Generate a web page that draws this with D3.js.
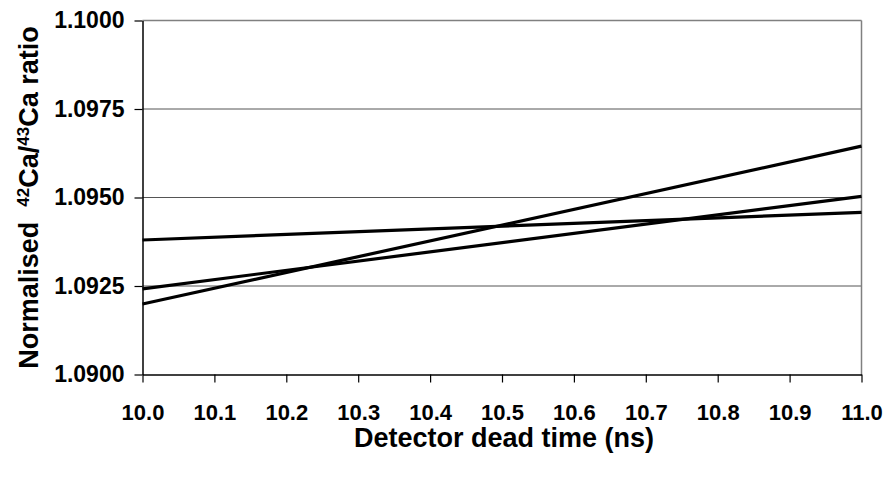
<!DOCTYPE html>
<html>
<head>
<meta charset="utf-8">
<script src="https://cdn.jsdelivr.net/npm/d3@7"></script>
<style>
  html, body { margin: 0; padding: 0; background: #fff; }
  svg { display: block; font-family: "Liberation Sans", Arial, sans-serif; font-weight: bold; }
</style>
</head>
<body>
<svg id="chart" width="891" height="477"></svg>
<script>
// Data
const xDomain = [10.0, 11.0];
const yDomain = [1.0900, 1.1000];
const xTicks = [10.0, 10.1, 10.2, 10.3, 10.4, 10.5, 10.6, 10.7, 10.8, 10.9, 11.0];
const yTicks = [1.0900, 1.0925, 1.0950, 1.0975, 1.1000];
const seriesFlat = [[10.0, 1.09380], [11.0, 1.09458]];
const seriesMid = [[10.0, 1.09242], [11.0, 1.09503]];
const seriesSteep = [[10.0, 1.09199], [11.0, 1.09645]];
const allSeries = [seriesFlat, seriesMid, seriesSteep];

const svg = d3.select("#chart");
const m = { left: 142.5, right: 861.5, top: 20.5, bottom: 374.5 };
const x = d3.scaleLinear().domain(xDomain).range([m.left, m.right]);
const y = d3.scaleLinear().domain(yDomain).range([m.bottom, m.top]);

// gridlines
svg.append("g").selectAll("line").data(yTicks.slice(1)).join("line")
  .attr("x1", m.left).attr("x2", m.right)
  .attr("y1", d => y(d)).attr("y2", d => y(d))
  .attr("stroke", d => d === 1.1 ? "#808080" : "#555")
  .attr("stroke-width", d => d === 1.1 ? 1.5 : 1);

// right border
svg.append("line").attr("x1", m.right).attr("x2", m.right)
  .attr("y1", m.top).attr("y2", m.bottom).attr("stroke", "#808080").attr("stroke-width", 1.5);

// axes
const xAxis = d3.axisBottom(x).tickValues(xTicks).tickFormat(d3.format(".1f")).tickSize(8).tickSizeOuter(0);
const gx = svg.append("g").attr("transform", `translate(0,${m.bottom})`).call(xAxis);
gx.select(".domain").attr("stroke", "#000").attr("stroke-width", 1.5);
gx.selectAll(".tick line").attr("stroke", "#000").attr("stroke-width", 1.2);
gx.selectAll(".tick text").attr("font-size", 22).attr("font-family", "Liberation Sans, Arial, sans-serif")
  .attr("font-weight", "bold").attr("fill", "#000").attr("dy", null).attr("y", 45.5);

const yAxis = d3.axisLeft(y).tickValues(yTicks).tickFormat(d3.format(".4f")).tickSize(8).tickSizeOuter(0);
const gy = svg.append("g").attr("transform", `translate(${m.left},0)`).call(yAxis);
gy.select(".domain").attr("stroke", "#000").attr("stroke-width", 1.5);
gy.selectAll(".tick line").attr("stroke", "#000").attr("stroke-width", 1.2);
gy.selectAll(".tick text").attr("font-size", 23).attr("font-family", "Liberation Sans, Arial, sans-serif")
  .attr("font-weight", "bold").attr("fill", "#000").attr("x", -18);

// series lines
const line = d3.line().x(d => x(d[0])).y(d => y(d[1]));
svg.append("g").selectAll("path").data(allSeries).join("path")
  .attr("d", line).attr("fill", "none").attr("stroke", "#000").attr("stroke-width", 3.2);

// x title
svg.append("text").attr("x", (m.left + m.right) / 2 + 2).attr("y", 447)
  .attr("text-anchor", "middle").attr("font-size", 27).text("Detector dead time (ns)");

// y title
const yt = svg.append("text")
  .attr("transform", `translate(38,${(m.top + m.bottom) / 2}) rotate(-90)`)
  .attr("text-anchor", "middle").attr("font-size", 27).attr("xml:space", "preserve");
yt.append("tspan").text("Normalised\u00a0\u00a0");
yt.append("tspan").attr("font-size", 17).attr("dy", -9).text("42");
yt.append("tspan").attr("dy", 9).text("Ca/");
yt.append("tspan").attr("font-size", 17).attr("dy", -9).text("43");
yt.append("tspan").attr("dy", 9).text("Ca ratio");
</script>
</body>
</html>
